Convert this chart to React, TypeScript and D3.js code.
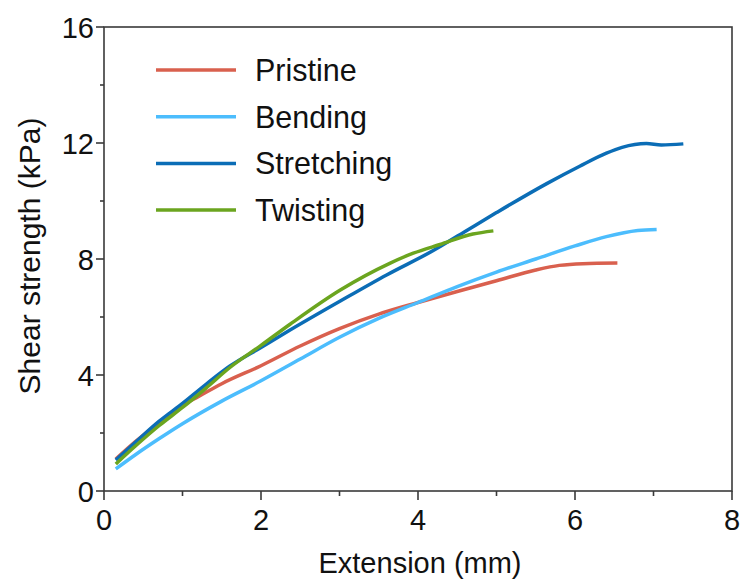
import React from "react";
import * as d3 from "d3";

const seriesNames = ["Pristine", "Bending", "Stretching", "Twisting"];
const seriesColors = ["#D9604E", "#4CBDFD", "#0B6DB6", "#6BA51F"];

const pristine: [number, number][] = [
  [0.15, 1.1], [0.4, 1.7], [0.7, 2.35], [1.0, 2.95], [1.2, 3.25], [1.5, 3.7],
  [2.0, 4.32], [2.5, 5.0], [3.0, 5.6], [3.5, 6.1], [4.0, 6.5], [4.5, 6.88],
  [5.0, 7.25], [5.5, 7.62], [5.8, 7.78], [6.1, 7.84], [6.54, 7.86],
];
const bending: [number, number][] = [
  [0.15, 0.76], [0.4, 1.25], [0.7, 1.8], [1.0, 2.32], [1.5, 3.1], [2.0, 3.8],
  [2.5, 4.55], [3.0, 5.3], [3.5, 5.95], [4.0, 6.5], [4.5, 7.05], [5.0, 7.55],
  [5.5, 8.0], [6.0, 8.45], [6.4, 8.77], [6.8, 8.98], [7.04, 9.02],
];
const stretching: [number, number][] = [
  [0.15, 1.07], [0.4, 1.68], [0.7, 2.4], [1.0, 3.02], [1.3, 3.68], [1.6, 4.3],
  [2.0, 4.95], [2.37, 5.55], [3.01, 6.55], [3.6, 7.45], [4.2, 8.3], [4.6, 8.95],
  [5.0, 9.6], [5.64, 10.6], [6.06, 11.2], [6.4, 11.65], [6.6, 11.85], [6.91, 11.98],
  [7.1, 11.93], [7.38, 11.97],
];
const twisting: [number, number][] = [
  [0.15, 0.93], [0.4, 1.55], [0.7, 2.25], [1.0, 2.88], [1.3, 3.55], [1.6, 4.25],
  [2.0, 5.02], [2.37, 5.75], [3.01, 6.93], [3.64, 7.85], [3.94, 8.2], [4.28, 8.5],
  [4.7, 8.86], [4.96, 8.97],
];
const allSeries = [pristine, bending, stretching, twisting];

const xTicks = [0, 2, 4, 6, 8];
const yTicks = [0, 4, 8, 12, 16];
const xMinor = [1, 3, 5, 7];
const yMinor = [2, 6, 10, 14];

export default function App() {
  const left = 104, right = 732, top = 27, bottom = 491;
  const x = d3.scaleLinear().domain([0, 8]).range([left, right]);
  const y = d3.scaleLinear().domain([0, 16]).range([bottom, top]);
  const line = d3
    .line<[number, number]>()
    .x((d) => x(d[0]))
    .y((d) => y(d[1]))
    .curve(d3.curveMonotoneX);
  const font = "Liberation Sans, Arial, sans-serif";
  const axisColor = "#3a3a3a";
  return (
    <svg
      width={745}
      height={585}
      style={{ position: "absolute", left: 0, top: 0, background: "#fff" }}
      fontFamily={font}
    >
      <rect x={0} y={0} width={745} height={585} fill="#fff" />
      {allSeries.map((s, i) => (
        <path
          key={i}
          d={line(s) || ""}
          fill="none"
          stroke={seriesColors[i]}
          strokeWidth={3.5}
          strokeLinejoin="round"
          strokeLinecap="butt"
        />
      ))}
      <rect x={left} y={top} width={right - left} height={bottom - top} fill="none" stroke={axisColor} strokeWidth={1.6} />
      {xTicks.map((t) => (
        <g key={"xt" + t}>
          <line x1={x(t)} x2={x(t)} y1={bottom} y2={bottom + 9} stroke={axisColor} strokeWidth={1.6} />
          <text x={x(t)} y={bottom + 39} textAnchor="middle" fontSize={29} fill="#111">
            {t}
          </text>
        </g>
      ))}
      {xMinor.map((t) => (
        <line key={"xm" + t} x1={x(t)} x2={x(t)} y1={bottom} y2={bottom + 5} stroke={axisColor} strokeWidth={1.6} />
      ))}
      {yTicks.map((t) => (
        <g key={"yt" + t}>
          <line x1={left - 8} x2={left} y1={y(t)} y2={y(t)} stroke={axisColor} strokeWidth={1.6} />
          <text x={left - 10} y={y(t) + 10.5} textAnchor="end" fontSize={29} fill="#111">
            {t}
          </text>
        </g>
      ))}
      {yMinor.map((t) => (
        <line key={"ym" + t} x1={left - 4} x2={left} y1={y(t)} y2={y(t)} stroke={axisColor} strokeWidth={1.6} />
      ))}
      <text x={(left + right) / 2 + 2} y={573} textAnchor="middle" fontSize={29} fill="#111">
        Extension (mm)
      </text>
      <text
        transform={`translate(40, ${(top + bottom) / 2 - 3}) rotate(-90)`}
        textAnchor="middle"
        fontSize={30}
        fill="#111"
      >
        Shear strength (kPa)
      </text>
      {seriesNames.map((name, i) => {
        const ly = 70 + i * 46.7;
        return (
          <g key={name}>
            <line x1={156} x2={236} y1={ly} y2={ly} stroke={seriesColors[i]} strokeWidth={3.5} />
            <text x={255} y={ly + 10.8} fontSize={30.5} fill="#111">
              {name}
            </text>
          </g>
        );
      })}
    </svg>
  );
}
